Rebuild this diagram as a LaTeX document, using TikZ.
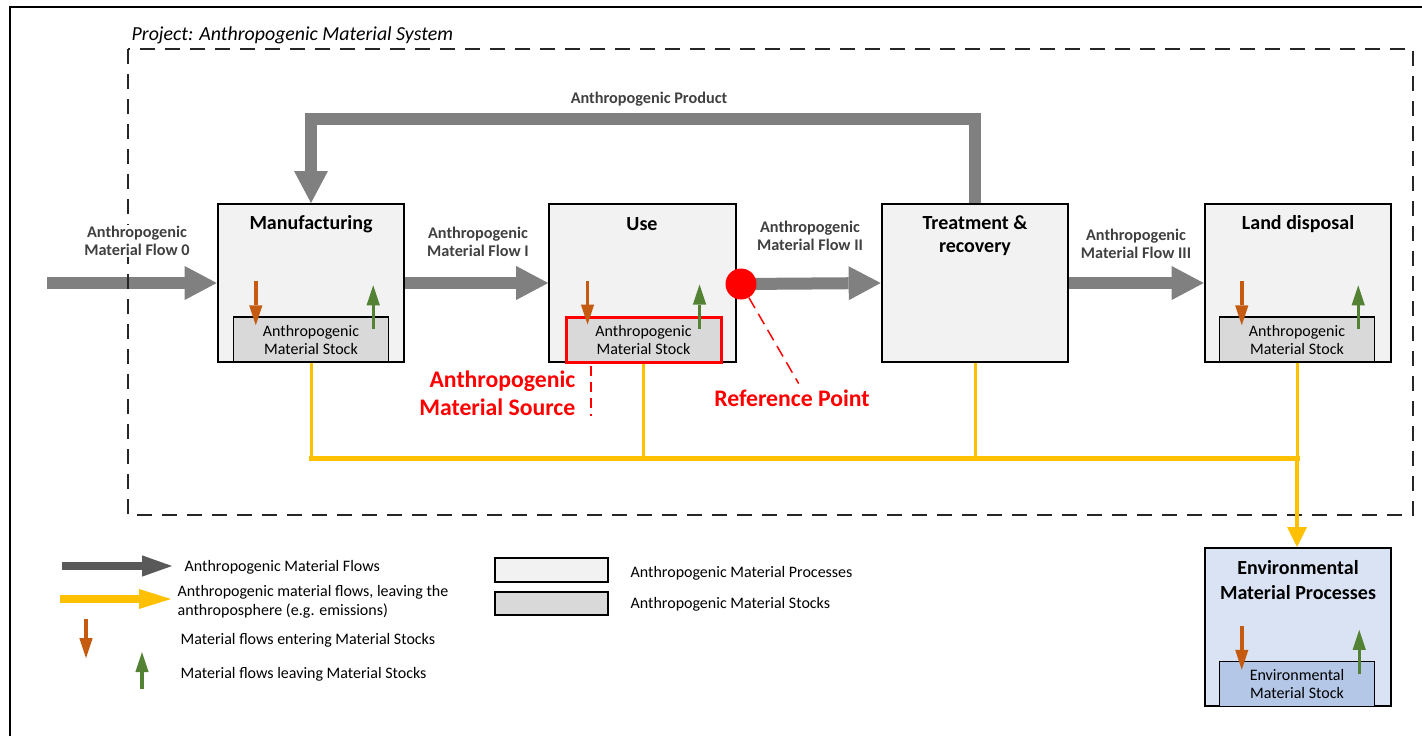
\documentclass[tikz,border=0pt]{standalone}
\usepackage{fontspec}
\setmainfont{Carlito}
\usetikzlibrary{arrows.meta,positioning,calc}
\definecolor{procfill}{HTML}{F2F2F2}
\definecolor{stockfill}{HTML}{D9D9D9}
\definecolor{envfill}{HTML}{DAE3F3}
\definecolor{envstockfill}{HTML}{B4C7E7}
\definecolor{flowgray}{HTML}{808080}
\definecolor{leggray}{HTML}{595959}
\definecolor{emisyellow}{HTML}{FFC000}
\definecolor{inorange}{HTML}{C55A11}
\definecolor{outgreen}{HTML}{548235}
\definecolor{lbltext}{HTML}{404040}
\definecolor{refred}{HTML}{FF0000}
\tikzset{
  proc/.style={draw,line width=1.5pt,fill=procfill,minimum width=140pt,
               minimum height=118.5pt,inner sep=0pt},
  stock/.style={draw,line width=1.1pt,fill=stockfill,minimum width=116.25pt,
                minimum height=33.75pt,inner sep=0pt,align=center,
                font=\fontsize{12}{13.5}\selectfont},
  ptitle/.style={font=\fontsize{15}{17}\selectfont\bfseries,align=center},
  flowlbl/.style={font=\fontsize{12.2}{13.5}\selectfont\bfseries,text=lbltext,align=center},
  flow/.style={line width=9pt,flowgray,-{Triangle[length=24pt,width=25.5pt,line width=0pt]}},
  emis/.style={line width=2.25pt,emisyellow},
  inarr/.style={line width=2.6pt,inorange,-{Triangle[length=15pt,width=10pt,line width=0pt]}},
  outarr/.style={line width=2.6pt,outgreen,-{Triangle[length=15pt,width=10pt,line width=0pt]}},
  reddash/.style={refred,line width=1.1pt,dash pattern=on 9pt off 5pt},
  redlbl/.style={font=\fontsize{17.8}{21}\selectfont\bfseries,text=refred,align=right},
  refdot/.style={circle,fill=refred,minimum size=23.25pt,inner sep=0pt},
  sysbox/.style={line width=1.5pt,black!85,dash pattern=on 11.25pt off 7.5pt},
  legtxt/.style={font=\fontsize{12}{14}\selectfont,anchor=west,align=left},
  legflow/.style={line width=6pt,leggray,-{Triangle[length=22.5pt,width=16pt,line width=0pt]}},
  legemis/.style={line width=6pt,emisyellow,-{Triangle[length=24pt,width=15pt,line width=0pt]}},
}
\begin{document}
\begin{tikzpicture}[x=0.75pt,y=-0.75pt]
  \useasboundingbox (0,0) rectangle (1422,736);

  %% -- Processes and stocks --------------------------------------------
  \node[proc] (man) at (311,283) {};
  \node[ptitle] (manT) at (311,224) {Manufacturing};
  \node[stock] (manS) at (311,339.5) {Anthropogenic\\Material Stock};

  \node[proc] (use) at (642.5,283) {};
  \node[ptitle] (useT) at (642,224) {Use};
  \node[stock,draw=refred,line width=2.25pt] (useS) at (643.5,339.5) {Anthropogenic\\Material Stock};

  \node[proc] (treat) at (975,283) {};
  \node[ptitle] (treatT) at (975,235.5) {Treatment \&\\recovery};

  \node[proc] (land) at (1298,283) {};
  \node[ptitle] (landT) at (1298,224) {Land disposal};
  \node[stock] (landS) at (1297,339.5) {Anthropogenic\\Material Stock};

  \node[proc,fill=envfill] (env) at (1298,627) {};
  \node[ptitle,font=\fontsize{15}{18.75}\selectfont\bfseries] (envT) at (1298,580.5) {Environmental\\Material Processes};
  \node[stock,fill=envstockfill] (envS) at (1297,684) {Environmental\\Material Stock};

  %% -- Stock in/out flows ----------------------------------------------
  \foreach \s/\g in {manS/16,useS/23,landS/17,envS/16} {
    \draw[inarr] ($(\s.north west)+(23,-35)$) -- ($(\s.north west)+(23,9)$);
    \draw[outarr] ($(\s.north east)+(-\g,13)$) -- ($(\s.north east)+(-\g,-31)$);
  }

  %% -- Anthropogenic material flows ------------------------------------
  \coordinate (src) at (47,283);
  \coordinate (refc) at (741,284);
  \draw[flow] (src) -- (man.west);
  \draw[flow] (man.east) -- (use.west);
  \draw[flow] (refc) -- (treat.west);
  \draw[flow] (treat.east) -- (land.west);
  \draw[flow] (treat.north) -- ++(0,-84) -| (man.north);

  %% -- System boundary -------------------------------------------------
  \draw[line width=1.5pt] (1422,7) -- (10,7) -- (10,736);
  \draw[sysbox] (128,49) rectangle (1413,515);
  \node[font=\fontsize{14.9}{17}\selectfont\itshape,anchor=west] (sysT) at (127,35)
    {Project: Anthropogenic Material System};

  %% -- Flows leaving the anthroposphere --------------------------------
  \coordinate (bus) at (0,458);
  \draw[emis] (manS.south) -- (manS.south |- bus);
  \draw[emis] (useS.south) -- (useS.south |- bus);
  \draw[emis] (treat.south) -- (treat.south |- bus);
  \draw[emis] (landS.south) -- (landS.south |- bus);
  \draw[emis,line width=3.75pt,line cap=rect] (manS.south |- bus) -- (landS.south |- bus);
  \draw[emis,line width=3.4pt,-{Triangle[length=15pt,width=15pt,line width=0pt]}]
    (landS.south |- bus) -- (landS.south |- env.north);

  %% -- Flow labels -----------------------------------------------------
  \node[flowlbl,fill=white,inner sep=1pt] (f0) at (137,241) {Anthropogenic\\Material Flow 0};
  \node[flowlbl] (f1) at (478,241.5) {Anthropogenic\\Material Flow I};
  \node[flowlbl] (f2) at (810,236) {Anthropogenic\\Material Flow II};
  \node[flowlbl] (f3) at (1136,244) {Anthropogenic\\Material Flow III};
  \node[flowlbl] (fp) at (649,99) {Anthropogenic Product};

  %% -- Reference point and source --------------------------------------
  \node[refdot] (refpt) at (refc) {};
  \node[redlbl,align=center] (refL) at (792,398) {Reference Point};
  \draw[reddash] (refpt) -- ([xshift=5pt,yshift=1pt]refL.north);
  \node[redlbl,anchor=east] (srcL) at (580,393) {Anthropogenic\\Material Source};
  \draw[reddash,dash pattern=on 7pt off 5pt] ([xshift=20pt,yshift=-2pt]useS.south west) -- ++(0,50);

  %% -- Legend ----------------------------------------------------------
  \coordinate (lgA1) at (62,566);  \coordinate (lgA2) at (172,566);
  \coordinate (lgB1) at (60,599);  \coordinate (lgB2) at (171,599);
  \coordinate (lgC1) at (86,619);  \coordinate (lgC2) at (86,658);
  \coordinate (lgD1) at (142,689); \coordinate (lgD2) at (142,652);
  \draw[legflow] (lgA1) -- (lgA2);
  \draw[legemis] (lgB1) -- (lgB2);
  \draw[inarr] (lgC1) -- (lgC2);
  \draw[outarr] (lgD1) -- (lgD2);
  \node[legtxt] (lgT1) at (180,567) {Anthropogenic Material Flows};
  \node[legtxt,font=\fontsize{12}{14.25}\selectfont] (lgT2) at (173,602)
    {Anthropogenic material flows, leaving the\\anthroposphere (e.g. emissions)};
  \node[legtxt] (lgT3) at (176,640) {Material flows entering Material Stocks};
  \node[legtxt] (lgT4) at (176,674) {Material flows leaving Material Stocks};

  \node[proc,minimum width=84.75pt,minimum height=18pt] (lgP) at (551.5,570) {};
  \node[stock,minimum width=84.75pt,minimum height=17.25pt,line width=1.5pt] (lgS) at (551.5,603.5) {};
  \node[legtxt] (lgT5) at (626,573) {Anthropogenic Material Processes};
  \node[legtxt] (lgT6) at (626,604) {Anthropogenic Material Stocks};
\end{tikzpicture}
\end{document}
